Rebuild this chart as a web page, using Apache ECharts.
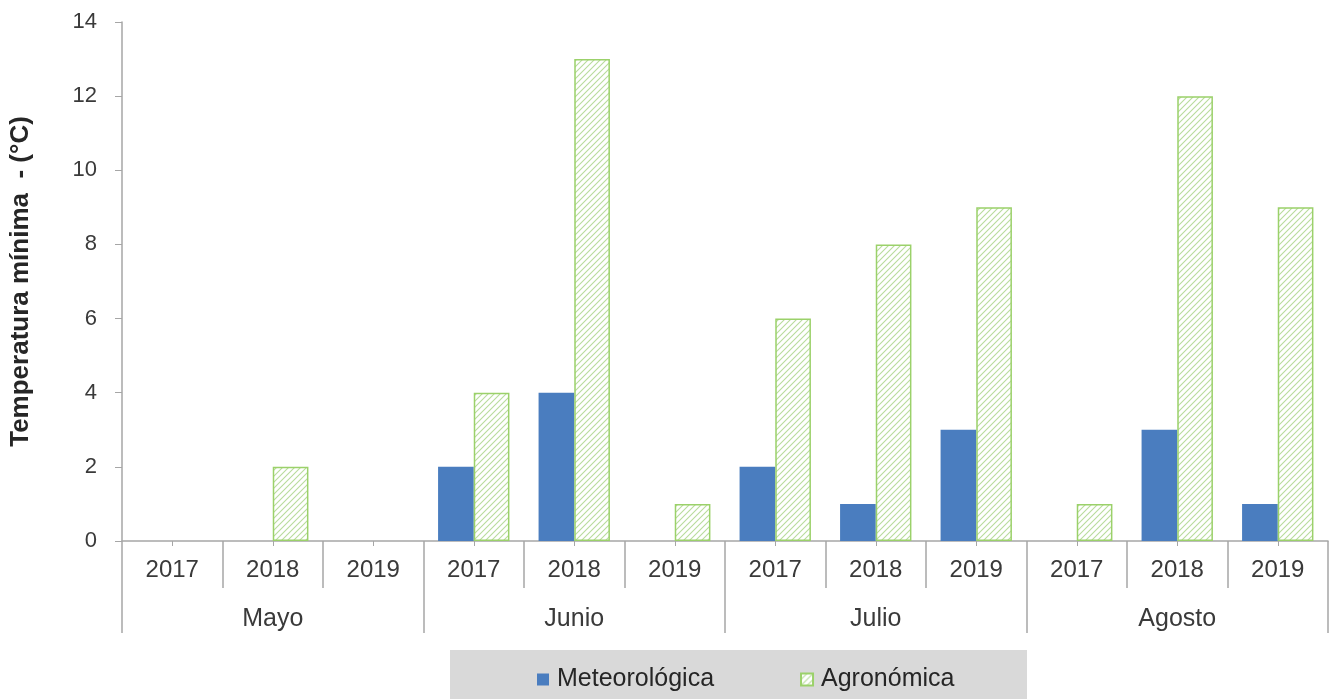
<!DOCTYPE html>
<html><head><meta charset="utf-8">
<script src="https://cdn.jsdelivr.net/npm/echarts@6/dist/echarts.min.js"></script>
<style>html,body{margin:0;padding:0;background:#fff}#c{width:1336px;height:699px}</style>
</head><body><div id="c"></div>
<script>
const months = ['Mayo','Junio','Julio','Agosto'];
const years = ['2017','2018','2019'];
const meteorologica = [0,0,0, 2,4,0, 2,1,3, 0,3,1];
const agronomica = [0,2,0, 4,13,1, 6,8,9, 1,12,9];
const yTicks = {min:0, max:14, interval:2};

const cats = [];
months.forEach(m => years.forEach(y => cats.push(y)));

const cv = document.createElement('canvas');
cv.width = 6; cv.height = 6;
const ctx = cv.getContext('2d');
ctx.fillStyle = '#ffffff'; ctx.fillRect(0,0,6,6);
ctx.strokeStyle = '#b8dc9c'; ctx.lineWidth = 1.1;
ctx.beginPath();
ctx.moveTo(-1,7); ctx.lineTo(7,-1);
ctx.moveTo(-1,1); ctx.lineTo(1,-1);
ctx.moveTo(5,7); ctx.lineTo(7,5);
ctx.stroke();

const hideZero = arr => arr.map(v => v === 0 ? {value:v, itemStyle:{borderWidth:0}} : v);

const font = 'Liberation Sans, Arial, sans-serif';
const axisGray = '#a6a6a6';
const textCol = '#3a3a3a';
const chart = echarts.init(document.getElementById('c'));
chart.setOption({
  animation:false,
  textStyle:{fontFamily:font},
  graphic:[{type:'rect', shape:{x:450,y:650,width:577,height:49}, style:{fill:'#d9d9d9'}, z:0}],
  legend:{
    data:['Meteorológica','Agronómica'], left:532, top:662, itemGap:86,
    itemWidth:12, itemHeight:12, icon:'rect',
    textStyle:{fontFamily:font, fontSize:25, color:'#262626', padding:[0,0,0,3]}
  },
  grid:{left:120, right:8, top:22, bottom:158},
  xAxis:[
    {type:'category', data:cats, position:'bottom',
     axisLine:{show:true, lineStyle:{color:axisGray, width:1.5}},
     axisTick:{show:true, alignWithLabel:true, length:5, lineStyle:{color:axisGray}},
     axisLabel:{fontSize:24, color:textCol, margin:17, fontFamily:font}},
    {type:'category', data:cats, position:'bottom',
     axisLine:{show:false}, axisLabel:{show:false},
     axisTick:{show:true, length:47, lineStyle:{color:axisGray, width:1.5}}},
    {type:'category', data:months, position:'bottom',
     axisLine:{show:false},
     axisTick:{show:true, length:92, lineStyle:{color:axisGray, width:1.5}},
     axisLabel:{fontSize:25, color:textCol, margin:66, fontFamily:font}}
  ],
  yAxis:{type:'value', min:yTicks.min, max:yTicks.max, interval:yTicks.interval,
    name:'Temperatura mínima  - (°C)', nameLocation:'middle', nameGap:88,
    nameTextStyle:{fontSize:26, fontWeight:'bold', color:'#262626', fontFamily:font},
    axisLine:{show:true, lineStyle:{color:axisGray, width:1.5}},
    axisTick:{show:true, length:7, lineStyle:{color:axisGray}},
    splitLine:{show:false},
    axisLabel:{fontSize:22, color:textCol, margin:25, fontFamily:font}},
  series:[
    {name:'Meteorológica', type:'bar', data:meteorologica, barGap:'0%', barCategoryGap:'29%',
     itemStyle:{color:'#4a7dbf'}},
    {name:'Agronómica', type:'bar', data:hideZero(agronomica), barGap:'0%', barCategoryGap:'29%',
     itemStyle:{color:{image:cv, repeat:'repeat'}, borderColor:'#9bd16a', borderWidth:1.5}}
  ]
});
</script></body></html>
